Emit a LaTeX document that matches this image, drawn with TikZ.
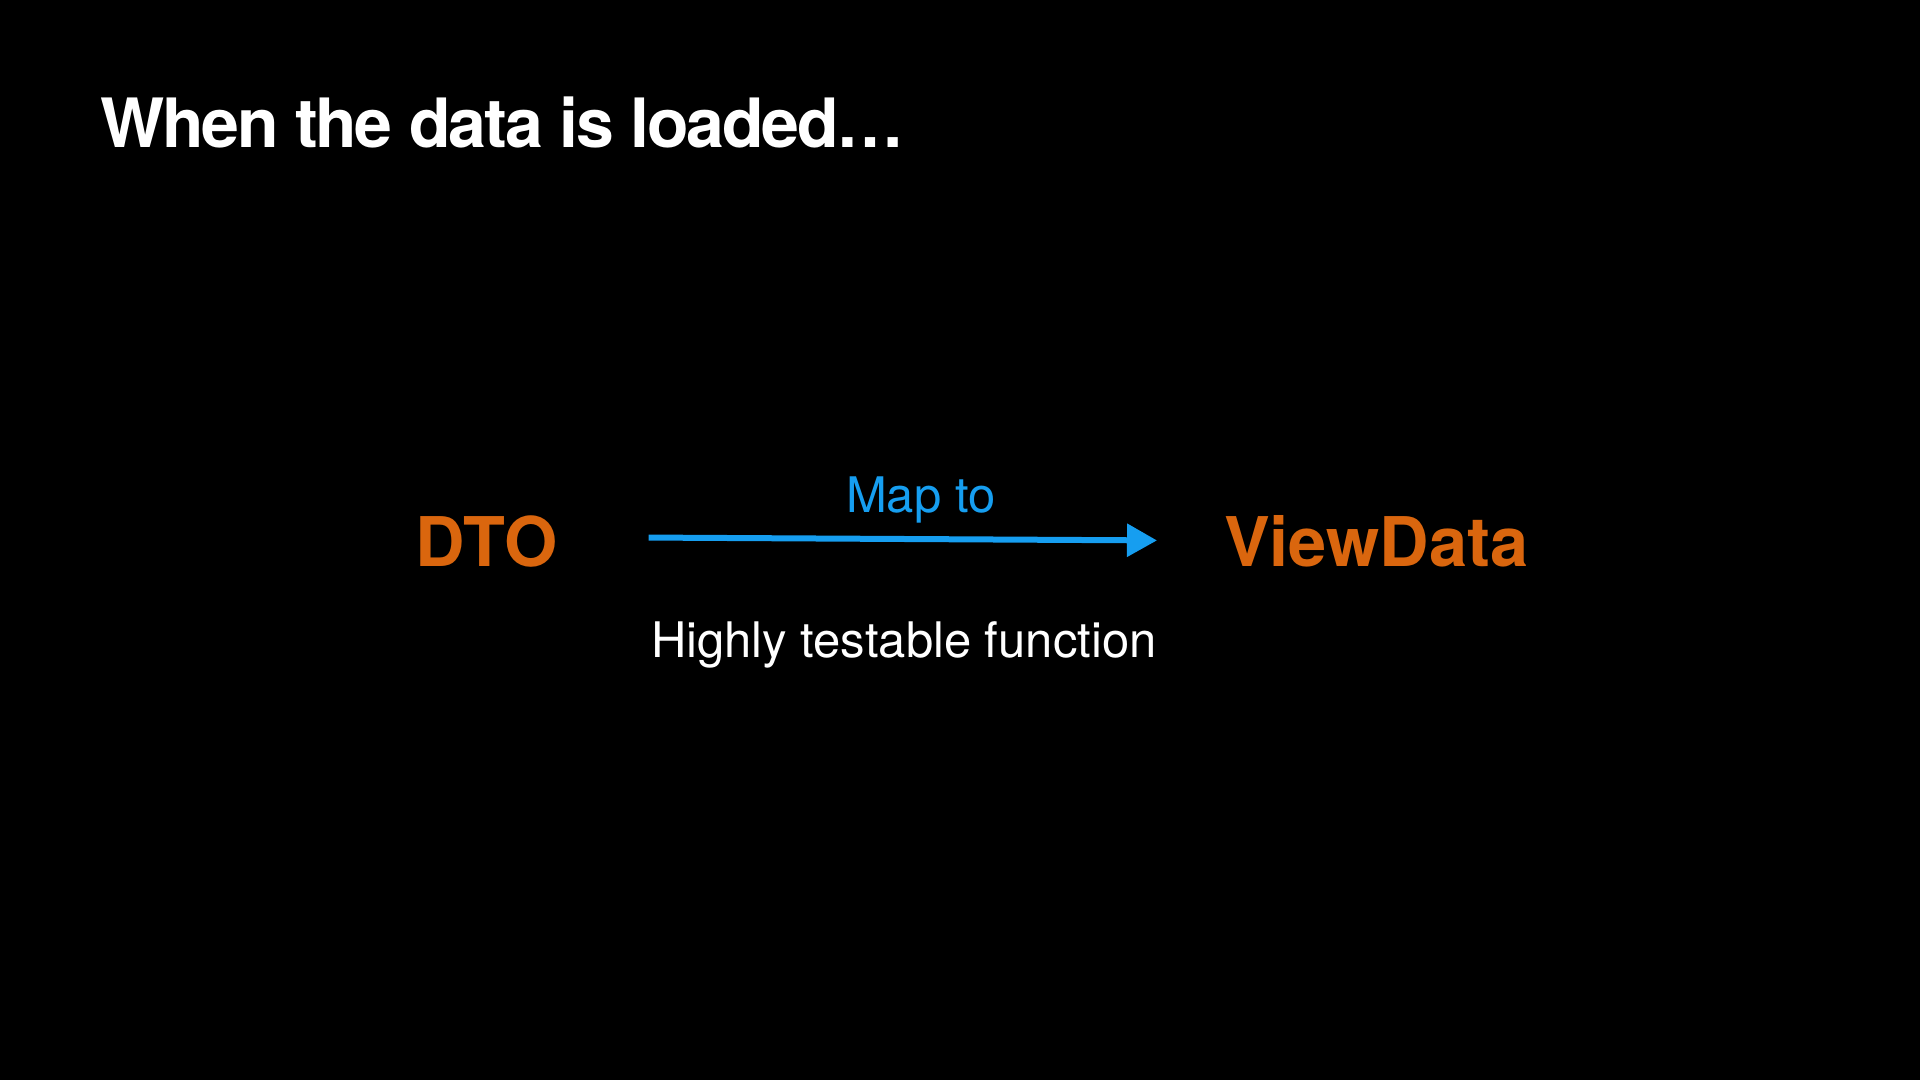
\documentclass[tikz,border=0pt]{standalone}
\usepackage{fontspec}
\setmainfont{TeX Gyre Heros}
\usepackage{tikz}
\usetikzlibrary{arrows.meta,positioning}
\definecolor{bg}{RGB}{0,0,0}
\definecolor{rust}{RGB}{218,102,14}
\definecolor{sky}{RGB}{22,158,240}
\tikzset{
  slidetitle/.style={inner sep=0pt,text=white,font=\fontsize{68}{80}\selectfont\bfseries\addfontfeatures{LetterSpace=-3.3}},
  kind/.style={inner sep=0pt,text=rust,font=\fontsize{68.5}{80}\selectfont\bfseries},
  lbl/.style={inner sep=0pt,font=\fontsize{49}{58}\selectfont},
  maparr/.style={-{Triangle[length=30pt,width=32pt]},line width=6pt,sky},
}

\begin{document}
\begin{tikzpicture}[x=1pt,y=-1pt]
  \fill[bg] (0,0) rectangle (1920,1080);
  \useasboundingbox (0,0) rectangle (1920,1080);
  \node[slidetitle,anchor=base west] (title) at (100,147) {When the data is loaded…};
  \node[kind,anchor=base west] (dto) at (415,566) {DTO};
  \node[kind,anchor=base west] (vd) at (1224,566) {ViewData};
  \draw[maparr,shorten <=91pt,shorten >=67pt] ([yshift=4pt]dto.east) -- (vd.west)
    node[lbl,text=sky,pos=0.545,above=13pt] (mapto) {Map to};
  \node[lbl,text=white,anchor=base west] (fn) at (651,657) {Highly testable function};
\end{tikzpicture}
\end{document}
